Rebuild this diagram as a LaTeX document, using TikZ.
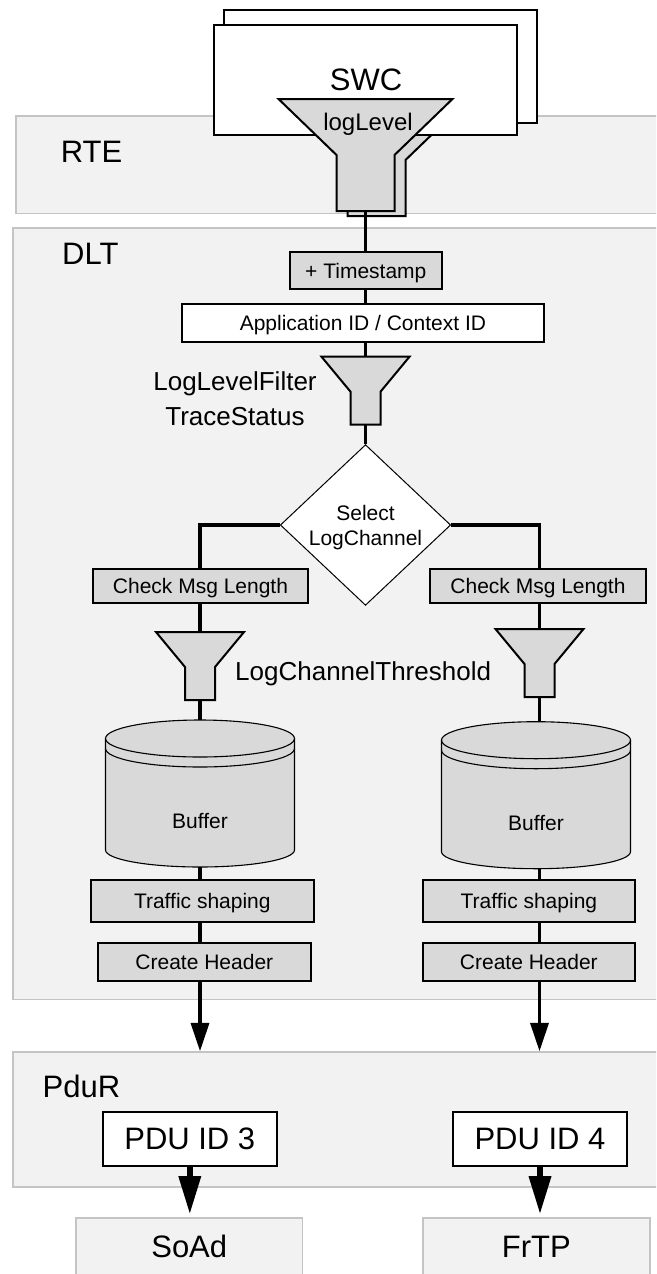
\documentclass[tikz,border=0pt]{standalone}
\usepackage{fontspec}
\setmainfont{Liberation Sans}
\usetikzlibrary{arrows.meta,shapes.geometric}
\definecolor{bandfill}{HTML}{F2F2F2}
\definecolor{bandline}{HTML}{C4C4C4}
\definecolor{boxgray}{HTML}{D9D9D9}
\newcommand\myfontL{\fontsize{31pt}{37pt}\selectfont}
\newcommand\myfontF{\fontsize{26pt}{35pt}\selectfont}
\newcommand\myfontG{\fontsize{24pt}{29pt}\selectfont}
\newcommand\myfontM{\fontsize{21pt}{25pt}\selectfont}
\begin{document}
\begin{tikzpicture}[x=1pt,y=-1pt,
  band/.style={draw=bandline,fill=bandfill,line width=1.6pt,inner sep=0pt},
  lbl/.style={font=\myfontL,inner sep=0pt,text height=22.2pt,text depth=0pt},
  gbox/.style={draw=black,fill=boxgray,line width=2pt,inner sep=0pt,font=\myfontM,text height=15pt,text depth=0pt},
  wbox/.style={gbox,fill=white},
  swcbox/.style={draw=black,fill=white,line width=2pt,inner sep=0pt},
  funnel/.style={draw=black,fill=boxgray,line width=2pt,line join=miter},
  bufline/.style={draw=black,line width=1.1pt},
  flow/.style={line width=3.2pt},
  arr/.style={line width=3.2pt,-{Triangle[width=19pt,length=28pt,line width=0pt]}},
  bigarr/.style={line width=6.5pt,-{Triangle[width=23pt,length=37pt,line width=0pt]}},
  pdubox/.style={draw=black,fill=white,line width=2pt,inner sep=0pt,font=\myfontL,text height=22.2pt,text depth=0pt},
  dest/.style={draw=bandline,fill=bandfill,line width=1.6pt,inner sep=0pt,font=\myfontL,text height=22.2pt,text depth=0pt},
  funnelS/.pic={
    \draw[funnel] (-44,0) -- (44,0) -- (15,35) -- (15,68) -- (-15,68) -- (-15,35) -- cycle;
    \coordinate (-top) at (0,0);
    \coordinate (-bot) at (0,68);
  },
  bufferpic/.pic={
    \fill[boxgray] (-94.5,0) arc[start angle=180,end angle=0,x radius=94.5pt,y radius=18.5pt]
      -- (94.5,111.5) arc[start angle=0,end angle=-180,x radius=94.5pt,y radius=17pt] -- cycle;
    \draw[bufline] (0,0) ellipse[x radius=94.5pt,y radius=18.5pt];
    \draw[bufline] (-94.5,10) arc[start angle=180,end angle=360,x radius=94.5pt,y radius=18.5pt];
    \draw[bufline] (-94.5,0) -- (-94.5,111.5) arc[start angle=180,end angle=360,x radius=94.5pt,y radius=17pt] -- (94.5,0);
    \coordinate (-top) at (0,-18.5);
    \coordinate (-bot) at (0,128.5);
  }
]
\useasboundingbox (0,0) rectangle (656,1274);
\clip (0,0) rectangle (656,1274);

% column coordinates
\coordinate (mcol) at (365.5,0);
\coordinate (lcol) at (200,0);
\coordinate (rcol) at (539.5,0);

% layer bands
\node[band,minimum width=664.3pt,minimum height=97.8pt] (rte) at (347.85,164.6) {};
\node[band,minimum width=667.3pt,minimum height=771.6pt] (dlt) at (346.35,613.5) {};
\node[band,minimum width=667.3pt,minimum height=135.3pt] (pdur) at (346.35,1119.35) {};
\node[lbl,anchor=west] (rtelbl) at (60.7,151.7) {RTE};
\node[lbl,anchor=west] (dltlbl) at (62,253.8) {DLT};
\node[lbl,anchor=west] (pdurlbl) at (42.5,1086) {PduR};

% destination modules
\node[dest,minimum width=226.5pt,minimum height=57pt] (soad) at (189.25,1246.5) {SoAd};
\node[dest,minimum width=227.3pt,minimum height=57pt] (frtp) at (536.35,1246.5) {FrTP};

% SWC stack
\node[swcbox,minimum width=313pt,minimum height=113pt] (swcback) at (380.5,66.5) {};
\draw[funnel] (289.5,104) -- (463.5,104) -- (405.5,160) -- (405.5,216) -- (347.5,216) -- (347.5,160) -- cycle;
\node[swcbox,minimum width=303pt,minimum height=110pt] (swc) at (365.5,80) {};
\node[font=\myfontL,inner sep=0pt,anchor=base] (swclbl) at (366,90) {SWC};
\draw[funnel] (278.5,99) -- (452.5,99) -- (394.5,155) -- (394.5,211) -- (336.5,211) -- (336.5,155) -- cycle;
\coordinate (f0bot) at (365.5,211);
\node[font=\myfontG,inner sep=0pt,anchor=base] (loglvl) at (368,130.7) {logLevel};

% DLT main chain
\node[gbox,minimum width=151.7pt,minimum height=37.6pt] (ts) at (365.8,270.5) {+ Timestamp};
\node[wbox,minimum width=362.3pt,minimum height=38pt] (app) at (362.9,323) {Application ID / Context ID};
\pic (f1) at (365.5,356.7) {funnelS};
\node[font=\myfontF,inner sep=0pt,align=center,text depth=0pt] (llf) at (235,398.2) {LogLevelFilter\\TraceStatus};
\node[draw=black,fill=white,diamond,line width=1pt,minimum width=170.4pt,minimum height=160.7pt,
      inner sep=0pt,align=center,font=\myfontM,text depth=0pt] (sel) at (365.5,525) {Select\\LogChannel};

\draw[flow] (f0bot) -- (mcol |- ts.north);
\draw[flow] (ts.south -| mcol) -- (mcol |- app.north);
\draw[flow] (app.south -| mcol) -- (f1-top);
\draw[flow] (f1-bot) -- (sel.north);

% left branch
\node[gbox,minimum width=215pt,minimum height=34.3pt] (chk1) at (200.5,586.15) {Check Msg Length};
\pic (f2) at (200,632) {funnelS};
\node[font=\myfontF,inner sep=0pt,anchor=base west] (lct) at (235,680) {LogChannelThreshold};
\pic (b1) at (200,738.5) {bufferpic};
\node[font=\myfontM,inner sep=0pt,text height=15pt,text depth=0pt] (buf1) at (200,821) {Buffer};
\node[gbox,minimum width=222.6pt,minimum height=42pt] (tsh1) at (202.3,901) {Traffic shaping};
\node[gbox,minimum width=212.7pt,minimum height=38pt] (hdr1) at (204.35,961.7) {Create Header};

% right branch
\node[gbox,minimum width=216pt,minimum height=34.3pt] (chk2) at (538,586.15) {Check Msg Length};
\pic (f3) at (539.5,629) {funnelS};
\pic (b2) at (536,740.2) {bufferpic};
\node[font=\myfontM,inner sep=0pt,text height=15pt,text depth=0pt] (buf2) at (536,822.7) {Buffer};
\node[gbox,minimum width=212.3pt,minimum height=41.7pt] (tsh2) at (528.85,900.85) {Traffic shaping};
\node[gbox,minimum width=212.3pt,minimum height=38pt] (hdr2) at (528.85,961.7) {Create Header};

\draw[flow] (sel.west) -| (chk1.north -| lcol);
\draw[flow] (sel.east) -| (chk2.north -| rcol);

\draw[flow] (chk1.south -| lcol) -- (f2-top);
\draw[flow] (f2-bot) -- (b1-top);
\draw[flow] (b1-bot) -- (tsh1.north -| lcol);
\draw[flow] (tsh1.south -| lcol) -- (hdr1.north -| lcol);
\draw[arr] (hdr1.south -| lcol) -- (pdur.north -| lcol);

\draw[flow] (chk2.south -| rcol) -- (f3-top);
\draw[flow] (f3-bot) -- (b2-top -| rcol);
\draw[flow] (b2-bot -| rcol) -- (tsh2.north -| rcol);
\draw[flow] (tsh2.south -| rcol) -- (hdr2.north -| rcol);
\draw[arr] (hdr2.south -| rcol) -- (pdur.north -| rcol);

% PduR
\node[pdubox,minimum width=174.4pt,minimum height=54.3pt] (pdu3) at (189.8,1138.85) {PDU ID 3};
\node[pdubox,minimum width=174.6pt,minimum height=54.3pt] (pdu4) at (540,1138.85) {PDU ID 4};
\draw[bigarr,shorten >=4pt] (pdu3.south) -- (pdu3.south |- soad.north);
\draw[bigarr,shorten >=4pt] (pdu4.south) -- (pdu4.south |- frtp.north);
\end{tikzpicture}
\end{document}
